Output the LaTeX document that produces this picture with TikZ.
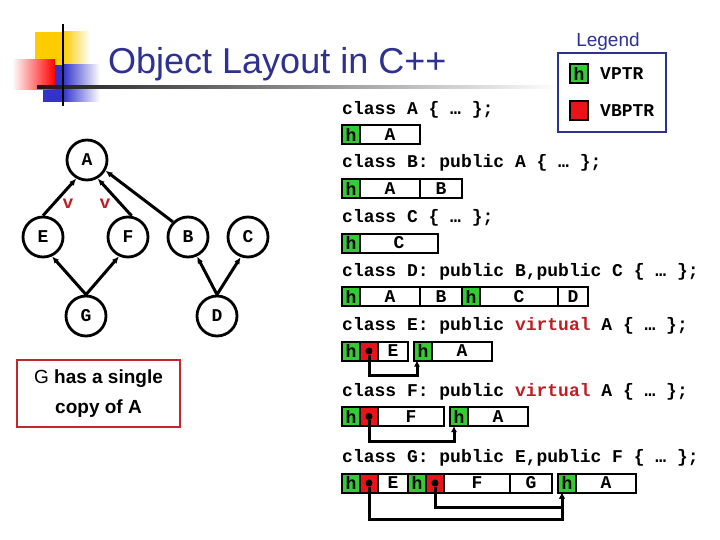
\documentclass[tikz,border=0pt]{standalone}
\usepackage{fontspec}
\setmainfont{Liberation Sans}
\setmonofont{Liberation Mono}
\usetikzlibrary{positioning, arrows.meta, calc}
\definecolor{titleblue}{RGB}{46,49,146}
\definecolor{hgreen}{RGB}{51,204,51}
\definecolor{vbred}{RGB}{232,20,25}
\definecolor{kwred}{RGB}{190,30,35}
\definecolor{notered}{RGB}{192,40,45}
\definecolor{decoyellow}{RGB}{255,204,0}
\definecolor{decoblue}{RGB}{51,51,204}
\newcommand{\codefont}{\ttfamily\bfseries\fontsize{18}{20}\selectfont}

\begin{document}
\begin{tikzpicture}[x=1pt, y=-1pt,
  vnode/.style={circle, draw, line width=2.8pt, minimum size=40pt, inner sep=0pt, font=\codefont},
  arr/.style={-{Latex[length=7pt,width=6pt]}, line width=3pt},
  code/.style={anchor=west, inner sep=0pt, font=\codefont},
  cell/.style={draw, line width=2pt, minimum height=19pt, inner sep=0pt, outer sep=0pt, font=\codefont},
  cw/.style={cell, minimum width=#1},
  hcell/.style={cell, fill=hgreen, minimum width=18pt},
  bcell/.style={cell, fill=vbred, minimum width=18pt},
  dot/.style={circle, fill=black, inner sep=0pt, minimum size=7pt},
  ptr/.style={-{Latex[length=6pt,width=6pt]}, line width=3pt},
  vlbl/.style={font=\codefont, text=kwred},
]
\useasboundingbox (0,0) rectangle (720,540);

% Title decoration
\fill[decoyellow] (35,32) rectangle (63,66);
\shade[left color=decoyellow, right color=white] (63,32) rectangle (90,66);
\fill[decoblue] (43,65) rectangle (63,102);
\shade[left color=decoblue, right color=white] (63,65) rectangle (100,102);
\shade[left color=white, right color=red] (12,60) rectangle (55,90);
\shade[left color=black!90, middle color=black!45, right color=white] (37,86) rectangle (560,88.5);
\draw[line width=2pt] (63,24) -- (63,106);

% Title
\node[anchor=base west, inner sep=0pt, text=titleblue, font=\fontsize{36}{40}\selectfont]
  (title) at (108,74) {Object Layout in C++};

% Legend
\node[anchor=base, inner sep=0pt, text=titleblue, font=\fontsize{19}{22}\selectfont]
  (lgTitle) at (608,47) {Legend};
\node[draw=titleblue, line width=1.5pt, minimum width=108pt, minimum height=79pt] (legend) at (612,92.5) {};
\node[hcell] (lgH) at (579,74) {h};
\node[code, right=12pt of lgH] (lgVptr) {VPTR};
\node[bcell] (lgB) at (579,111) {};
\node[code, right=12pt of lgB] (lgVbptr) {VBPTR};

% Class hierarchy
\node[vnode] (nA) at (87,160) {A};
\node[vnode] (nE) at (43,237) {E};
\node[vnode] (nF) at (128,237) {F};
\node[vnode] (nB) at (188,237) {B};
\node[vnode] (nC) at (248,237) {C};
\node[vnode] (nG) at (86,316) {G};
\node[vnode] (nD) at (217,316) {D};

\draw[arr] (nE.north) -- (nA.240);
\draw[arr] (nF.80) -- (nA.300);
\draw[arr] (nB.135) -- (nA.330);
\draw[arr] (nG.north) -- (nE.295);
\draw[arr] (nG.north) -- (nF.245);
\draw[arr] (nD.north) -- (nB.295);
\draw[arr] (nD.north) -- (nC.250);

\node[vlbl] (vE) at (68,204) {v};
\node[vlbl] (vF) at (105,204) {v};

% Note
\node[draw=notered, line width=1.5pt, minimum width=163pt, minimum height=67pt, align=center,
      font=\bfseries\fontsize{19}{30}\selectfont] (note) at (98.5,393.5)
  {{\mdseries G} has a single\\copy of A};

% class A
\node[code] (cA) at (342,110) {class A \{ … \};};
\node[hcell, anchor=west] (a1) at (342,134.5) {h};
\node[cw=60pt, right=0pt of a1] (a2) {A};

% class B
\node[code] (cB) at (342,163) {class B: public A \{ … \};};
\node[hcell, anchor=west] (b1) at (342,188.5) {h};
\node[cw=60pt, right=0pt of b1] (b2) {A};
\node[cw=42pt, right=0pt of b2] (b3) {B};

% class C
\node[code] (cC) at (342,218) {class C \{ … \};};
\node[hcell, anchor=west] (c1) at (342,243) {h};
\node[cw=78pt, right=0pt of c1] (c2) {C};

% class D
\node[code] (cD) at (342,272) {class D: public B,public C \{ … \};};
\node[hcell, anchor=west] (d1) at (342,296.5) {h};
\node[cw=60pt, right=0pt of d1] (d2) {A};
\node[cw=42pt, right=0pt of d2] (d3) {B};
\node[hcell, right=0pt of d3] (d4) {h};
\node[cw=78pt, right=0pt of d4] (d5) {C};
\node[cw=30pt, right=0pt of d5] (d6) {D};

% class E
\node[code] (cE) at (342,326) {class E: public \textcolor{kwred}{virtual} A \{ … \};};
\node[hcell, anchor=west] (e1) at (342,351) {h};
\node[bcell, right=0pt of e1] (e2) {};
\node[cw=30pt, right=0pt of e2] (e3) {E};
\node[hcell, right=6pt of e3] (e4) {h};
\node[cw=60pt, right=0pt of e4] (e5) {A};
\node[dot] (eDot) at (e2.center) {};
\draw[ptr] (eDot) -- ++(0,24) -| ($(e4.south west)+(3,0)$);

% class F
\node[code] (cF) at (342,392) {class F: public \textcolor{kwred}{virtual} A \{ … \};};
\node[hcell, anchor=west] (f1) at (342,416.5) {h};
\node[bcell, right=0pt of f1] (f2) {};
\node[cw=66pt, right=0pt of f2] (f3) {F};
\node[hcell, right=6pt of f3] (f4) {h};
\node[cw=60pt, right=0pt of f4] (f5) {A};
\node[dot] (fDot) at (f2.center) {};
\draw[ptr] (fDot) -- ++(0,24.5) -| ($(f4.south west)+(4,0)$);

% class G
\node[code] (cG) at (342,458) {class G: public E,public F \{ … \};};
\node[hcell, anchor=west] (g1) at (342,483) {h};
\node[bcell, right=0pt of g1] (g2) {};
\node[cw=30pt, right=0pt of g2] (g3) {E};
\node[hcell, right=0pt of g3] (g4) {h};
\node[bcell, right=0pt of g4] (g5) {};
\node[cw=66pt, right=0pt of g5] (g6) {F};
\node[cw=42pt, right=0pt of g6] (g7) {G};
\node[hcell, right=6pt of g7] (g8) {h};
\node[cw=60pt, right=0pt of g8] (g9) {A};
\node[dot] (gDot1) at (g2.center) {};
\node[dot] (gDot2) at (g5.center) {};
\draw[ptr] (gDot1) -- ++(0,36) -| ($(g8.south west)+(4,0)$);
\draw[ptr] (gDot2) -- ++(0,24) -| ($(g8.south west)+(4,0)$);

\end{tikzpicture}
\end{document}
